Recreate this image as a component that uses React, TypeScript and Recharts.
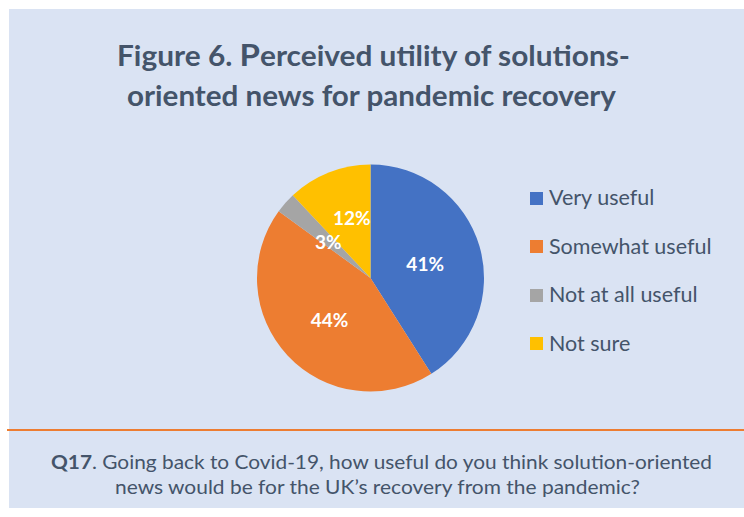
import { PieChart, Pie, Cell, Legend } from 'recharts';

// Survey answers to Q17, share of respondents (%)
const answers = ['Very useful', 'Somewhat useful', 'Not at all useful', 'Not sure'];
const shares = [41, 44, 3, 12];
const sliceColors = ['#4472C4', '#ED7D31', '#A5A5A5', '#FFC000'];

const titleLines = ['Figure 6. ', 'Perceived utility of solutions-', 'oriented news for pandemic recovery'];
const questionLead = 'Q17';
const questionLines = [
  '. Going back to Covid-19, how useful do you think solution-oriented',
  'news would be for the UK\u2019s recovery from the pandemic?',
];

const FONT = 'Lato, "Open Sans", sans-serif';
const TEXT = '#44546A';
const PANEL = '#DAE3F3';
const RAD = Math.PI / 180;

// small nudges so the labels of the two thin slices don't collide
const labelNudge = [
  [-2, 2],
  [2, 1],
  [2, 3],
  [3, -6],
];

const data = answers.map((name, i) => ({ name, value: shares[i] }));

function SliceLabel({ cx, cy, midAngle, outerRadius, value, index }: any) {
  const r = outerRadius * 0.52;
  const [nx, ny] = labelNudge[index] || [0, 0];
  const x = cx + r * Math.cos(-midAngle * RAD) + nx;
  const y = cy + r * Math.sin(-midAngle * RAD) + ny;
  return (
    <text
      x={x}
      y={y}
      fill="#ffffff"
      fontFamily={FONT}
      fontWeight={700}
      fontSize={19}
      textAnchor="middle"
      dominantBaseline="central"
    >
      {`${value}%`}
    </text>
  );
}

function LegendList({ payload }: any) {
  const items = [...(payload || [])].sort(
    (a: any, b: any) => answers.indexOf(a.value) - answers.indexOf(b.value)
  );
  return (
    <div>
      {items.map((entry: any) => (
        <div
          key={entry.value}
          style={{ height: 48.5, display: 'flex', alignItems: 'center' }}
        >
          <span
            style={{
              width: 13,
              height: 13,
              background: entry.color,
              display: 'inline-block',
              marginRight: 6,
            }}
          />
          <span style={{ fontFamily: FONT, fontSize: 21.5, color: TEXT, lineHeight: 1 }}>
            {entry.value}
          </span>
        </div>
      ))}
    </div>
  );
}

export default function App() {
  return (
    <div
      style={{
        position: 'fixed',
        left: 0,
        top: 0,
        width: 744,
        height: 517,
        background: '#ffffff',
        overflow: 'hidden',
      }}
    >
      {/* panels and divider */}
      <div style={{ position: 'absolute', left: 9, top: 9, width: 735, height: 421, background: PANEL }} />
      <div style={{ position: 'absolute', left: 9, top: 431, width: 735, height: 77, background: PANEL }} />
      <div style={{ position: 'absolute', left: 7, top: 429, width: 737, height: 2, background: '#ED7D31' }} />

      <svg width={744} height={517} style={{ position: 'absolute', left: 0, top: 0 }}>
        <text
          x={117}
          y={66}
          fontFamily={FONT}
          fontWeight={700}
          fontSize={28}
          fill={TEXT}
          textLength={513}
          lengthAdjust="spacingAndGlyphs"
        >
          {titleLines[0]}
          <tspan fontSize={31}>{titleLines[1].charAt(0)}</tspan>
          {titleLines[1].slice(1)}
        </text>
        <text
          x={127}
          y={106}
          fontFamily={FONT}
          fontWeight={700}
          fontSize={28}
          fill={TEXT}
          textLength={489}
          lengthAdjust="spacingAndGlyphs"
        >
          {titleLines[2]}
        </text>

        <text
          x={51}
          y={469}
          fontFamily={FONT}
          fontSize={19}
          fill={TEXT}
          textLength={661}
          lengthAdjust="spacingAndGlyphs"
        >
          <tspan fontWeight={700}>{questionLead}</tspan>
          {questionLines[0]}
        </text>
        <text
          x={115}
          y={494}
          fontFamily={FONT}
          fontSize={19}
          fill={TEXT}
          textLength={525}
          lengthAdjust="spacingAndGlyphs"
        >
          {questionLines[1]}
        </text>
      </svg>

      <div style={{ position: 'absolute', left: 0, top: 0 }}>
        <PieChart width={744} height={517} margin={{ top: 0, right: 0, bottom: 0, left: 0 }}>
          <Pie
            data={data}
            dataKey="value"
            nameKey="name"
            cx={370.5}
            cy={278}
            outerRadius={113.5}
            startAngle={90}
            endAngle={-270}
            stroke="none"
            label={SliceLabel}
            labelLine={false}
            isAnimationActive={false}
          >
            {data.map((d, i) => (
              <Cell key={d.name} fill={sliceColors[i]} />
            ))}
          </Pie>
          <Legend
            layout="vertical"
            align="right"
            verticalAlign="top"
            content={LegendList}
            wrapperStyle={{ left: 530, top: 173.75, width: 210, right: 'auto' }}
          />
        </PieChart>
      </div>
    </div>
  );
}
